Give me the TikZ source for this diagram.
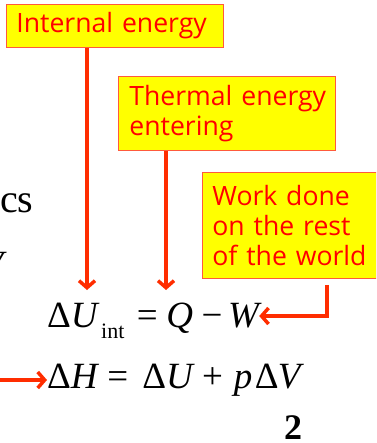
\documentclass[tikz,border=0pt]{standalone}
\usepackage{fontspec}
\setmainfont{Liberation Serif}
\newfontfamily\boxfont{Open Sans}
\usetikzlibrary{arrows.meta,calc}
\definecolor{boxyellow}{RGB}{255,255,0}
\definecolor{boxred}{RGB}{255,0,0}
\definecolor{arrred}{RGB}{255,45,0}
\definecolor{edgered}{RGB}{255,90,60}
\begin{document}
\begin{tikzpicture}[x=1pt,y=-1pt,
  labelbox/.style={draw=edgered, line width=0.8pt, fill=boxyellow, text=boxred,
    font=\boxfont\fontsize{26.6}{30}\selectfont, align=left, anchor=north west},
  arr/.style={draw=arrred, line width=3.5pt, -{Straight Barb[length=7pt,width=16pt]}},
  eq/.style={inner sep=0pt, anchor=base west, font=\fontsize{37}{40}\selectfont}]
\useasboundingbox (0,0) rectangle (376,443);
\clip (0,0) rectangle (376,443);

% left clipped texts
\node[anchor=base west, inner sep=0pt, font=\fontsize{40}{40}\selectfont] (cs) at (0,212) {cs};
\node[anchor=base west, inner sep=0pt, font=\itshape\fontsize{37}{37}\selectfont] (vv) at (-19.5,276) {V};

% boxes
\node[labelbox, minimum width=217pt, minimum height=43pt, inner xsep=10pt, text width=197pt] (box1) at (6,4) {\mbox{Internal energy}};
\node[labelbox, minimum width=217pt, minimum height=74pt, inner xsep=11pt, text width=195pt] (box2) at (118,76) {\mbox{Thermal energy}\\\mbox{entering}};
\node[labelbox, minimum width=174pt, minimum height=106pt, inner xsep=10pt, text width=154pt] (box3) at (202,172) {\mbox{Work done}\\\mbox{on the rest}\\\mbox{of the world}};

% equations
\node[eq] (eq1) at (47,327) {Δ{\itshape U}\hspace{3.5pt}\raisebox{-11pt}{\fontsize{22}{22}\selectfont int}\hspace{12.5pt}=\hspace{8.5pt}{\itshape Q}\hspace{8.5pt}−\hspace{5.8pt}{\itshape W}};
\node[eq] (eq2) at (47,388) {Δ{\itshape H}\hspace{9.7pt}=\hspace{14pt}Δ{\itshape U}\hspace{9.3pt}+\hspace{11pt}{\itshape p}\hspace{2.5pt}Δ\hspace{-1pt}{\itshape V}};
\node[anchor=base west, inner sep=0pt, font=\bfseries\fontsize{36}{36}\selectfont] (pg) at (284,439) {2};

% arrows
\coordinate (t1) at (87,290);
\draw[arr] (box1.south -| t1) -- (t1);
\coordinate (t2) at (166,290);
\draw[arr] (box2.south -| t2) -- (t2);
\coordinate (c3) at (327,316);
\draw[arr] ([yshift=-6pt]box3.south -| c3) -- (c3) -- (c3 -| eq1.east);
\coordinate (s4) at (0,380);
\draw[arr] (s4) -- (s4 -| eq2.west);
\end{tikzpicture}
\end{document}
